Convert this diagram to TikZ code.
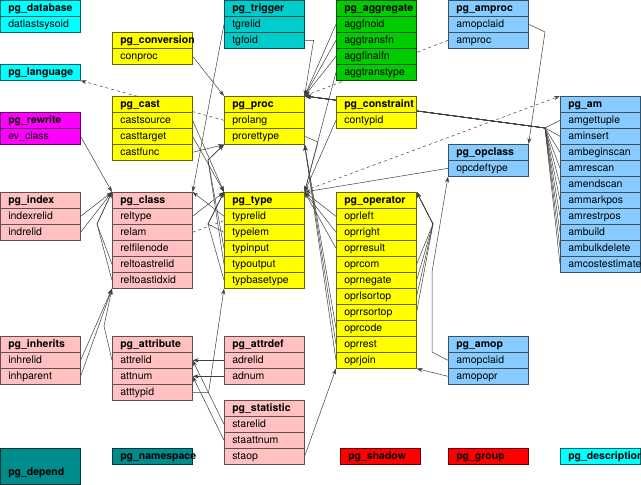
\documentclass[tikz,border=0pt]{standalone}
\usepackage{fontspec}
\setmainfont{TeX Gyre Heros}
\usetikzlibrary{arrows.meta,backgrounds}

\definecolor{catcyan}{HTML}{00FFFF}
\definecolor{cattrigger}{HTML}{00CCCC}
\definecolor{catgreen}{HTML}{00CC00}
\definecolor{catblue}{HTML}{88CCFF}
\definecolor{catyellow}{HTML}{FFFF00}
\definecolor{catmagenta}{HTML}{FF00FF}
\definecolor{catpink}{HTML}{FFC0C0}
\definecolor{catteal}{HTML}{008C8C}
\definecolor{catred}{HTML}{FF0000}

\tikzset{
  tblcell/.style={draw=#1!40!black, fill=#1, line width=0.6pt, anchor=north west,
    minimum width=80pt, minimum height=16pt, inner xsep=8pt, inner ysep=0pt,
    text height=9pt, text depth=2pt, font=\fontsize{10.5pt}{12pt}\selectfont},
  tblhead/.style={tblcell=#1, font=\fontsize{10.5pt}{12pt}\selectfont\bfseries},
  ref/.style={-{Stealth[length=6pt,width=4pt]}, draw=black!75, line width=0.5pt},
  optref/.style={ref, dashed},
}

\catcode`\_=12
\newcommand{\celltext}[1]{\makebox[64pt][l]{#1}}
% table: name, colour, x, y, fields
\newcommand{\dbtable}[5]{%
  \node[tblhead=#2] (#1) at (#3,#4) {\celltext{pg_#1}};
  \foreach \f [count=\i] in {#5} {
    \node[tblcell=#2] (#1-\f) at (#3,#4+16*\i) {\celltext{\f}};
    \coordinate (#1-sw) at (#1-\f.south west);
    \coordinate (#1-se) at (#1-\f.south east);
  }%
}

\begin{document}
\begin{tikzpicture}[x=1pt,y=-1pt]
  \useasboundingbox (0,0) rectangle (641,485);

  % top rows
  \dbtable{database}{catcyan}{0}{0}{datlastsysoid}
  \dbtable{trigger}{cattrigger}{224}{0}{tgrelid,tgfoid}
  \dbtable{aggregate}{catgreen}{336}{0}{aggfnoid,aggtransfn,aggfinalfn,aggtranstype}
  \dbtable{amproc}{catblue}{448}{0}{amopclaid,amproc}
  \dbtable{conversion}{catyellow}{112}{32}{conproc}
  \node[tblhead=catcyan] (language) at (0,64) {\celltext{pg_language}};
  \dbtable{cast}{catyellow}{112}{96}{castsource,casttarget,castfunc}
  \dbtable{rewrite}{catmagenta}{0}{112}{ev_class}
  \dbtable{proc}{catyellow}{224}{96}{prolang,prorettype}
  \dbtable{constraint}{catyellow}{336}{96}{contypid}
  \dbtable{am}{catblue}{560}{96}{amgettuple,aminsert,ambeginscan,amrescan,amendscan,ammarkpos,amrestrpos,ambuild,ambulkdelete,amcostestimate}
  \dbtable{opclass}{catblue}{448}{144}{opcdeftype}

  % middle rows
  \dbtable{index}{catpink}{0}{192}{indexrelid,indrelid}
  \dbtable{class}{catpink}{112}{192}{reltype,relam,relfilenode,reltoastrelid,reltoastidxid}
  \dbtable{type}{catyellow}{224}{192}{typrelid,typelem,typinput,typoutput,typbasetype}
  \dbtable{operator}{catyellow}{336}{192}{oprleft,oprright,oprresult,oprcom,oprnegate,oprlsortop,oprrsortop,oprcode,oprrest,oprjoin}
  \dbtable{inherits}{catpink}{0}{336}{inhrelid,inhparent}
  \dbtable{attribute}{catpink}{112}{336}{attrelid,attnum,atttypid}
  \dbtable{attrdef}{catpink}{224}{336}{adrelid,adnum}
  \dbtable{amop}{catblue}{448}{336}{amopclaid,amopopr}
  \dbtable{statistic}{catpink}{224}{400}{starelid,staattnum,staop}

  % bottom row
  \node[tblhead=catteal, minimum height=36pt, text height=20pt] (depend) at (0,448) {\celltext{pg_depend}};
  \node[tblhead=catteal] (namespace) at (112,448) {\celltext{pg_namespace}};
  \node[tblhead=catred] (shadow) at (340,448) {\celltext{pg_shadow}};
  \node[tblhead=catred] (group) at (448,448) {\celltext{pg_group}};
  \node[tblhead=catcyan] (description) at (560,448) {\celltext{pg_description}};

  \begin{scope}[on background layer]
    \fill[white] (0,0) rectangle (641,485);
    \coordinate (amprocbend) at (545,32);
    \coordinate (amjoin) at (545,128);
    \coordinate (retbend) at (318,142);
    \coordinate (classloop) at (97,224);
    \coordinate (typeloop) at (208,224);
    \coordinate (iobend) at (208,160);
    \coordinate (oploop) at (433,224);
    \coordinate (attbend) at (104,326);
    \coordinate (amopbend) at (432,352);

    % to pg_proc
    \draw[ref] (trigger-tgfoid.east) -- ++(9,0) -- (proc.north east);
    \draw[ref] (conversion-conproc.east) -- (proc.north west);
    \draw[ref] (cast-castfunc.east) -- (proc-sw);
    \foreach \f in {aggfnoid,aggtransfn,aggfinalfn}
      \draw[ref] (aggregate-\f.west) -- (proc.north east);
    \draw[optref] (amproc-amproc.west) -- (proc.north east);
    \foreach \f in {amgettuple,aminsert,ambeginscan,amrescan,amendscan,ammarkpos,amrestrpos,ambuild,ambulkdelete,amcostestimate}
      \draw[ref] (am-\f.west) -- (amjoin) -- (proc.north east);
    \foreach \f in {typinput,typoutput}
      \draw[ref] (type-\f.west) -- (iobend) -- (proc-sw);
    \foreach \f in {oprcode,oprrest,oprjoin}
      \draw[ref] (operator-\f.west) -- (proc-se);

    % to pg_type
    \draw[ref] (cast-castsource.east) -- (type.north west);
    \draw[ref] (cast-casttarget.east) -- (type.north west);
    \draw[ref] (class-reltype.east) -- (type.north west);
    \foreach \f in {typelem,typbasetype}
      \draw[ref] (type-\f.west) -- (typeloop) -- (type.north west);
    \draw[ref] (proc-prorettype.east) -- (retbend) -- (type.north east);
    \draw[ref] (aggregate-aggtranstype.west) -- (type.north east);
    \draw[ref] (constraint-contypid.west) -- (type.north east);
    \draw[ref] (opclass-opcdeftype.west) -- (type.north east);
    \foreach \f in {oprleft,oprright,oprresult}
      \draw[ref] (operator-\f.west) -- (type.north east);
    \draw[ref] (attribute-atttypid.east) -- ++(16,0) -- (type-sw);

    % to pg_class
    \draw[ref] (trigger-tgrelid.west) -- (class.north east);
    \draw[ref] (type-typrelid.west) -- (class.north east);
    \draw[ref] (rewrite-ev_class.east) -- (class.north west);
    \draw[ref] (index-indexrelid.east) -- (class.north west);
    \draw[ref] (index-indrelid.east) -- (class.north west);
    \foreach \f in {reltoastrelid,reltoastidxid}
      \draw[ref] (class-\f.west) -- (classloop) -- (class.north west);
    \draw[ref] (inherits-inhrelid.east) -- (class-sw);
    \draw[ref] (inherits-inhparent.east) -- (class-sw);
    \draw[ref] (attribute-attrelid.west) -- (attbend) -- (class-sw);

    % others
    \draw[optref] (proc-prolang.west) -- (language.south east);
    \draw[optref] (class-relam.east) -- (am.north west);
    \draw[ref] (amproc-amopclaid.east) -- (amprocbend) -- (opclass.north east);
    \draw[ref] (amop-amopclaid.west) -- (amopbend) -- ++(0,-80) -- (opclass-sw);
    \draw[ref] (amop-amopopr.west) -- (operator-se);
    \foreach \f in {oprcom,oprnegate,oprlsortop,oprrsortop}
      \draw[ref] (operator-\f.east) -- (oploop) -- (operator.north east);
    \draw[ref] (attrdef-adrelid.west) -- (attribute-attrelid.east);
    \draw[ref] (attrdef-adnum.west) -- (attribute-attnum.east);
    \draw[ref] (statistic-starelid.west) -- (attribute-attrelid.east);
    \draw[ref] (statistic-staattnum.west) -- (attribute-attnum.east);
    \draw[ref] (statistic-staop.east) -- (operator-sw);
  \end{scope}
\end{tikzpicture}
\end{document}
